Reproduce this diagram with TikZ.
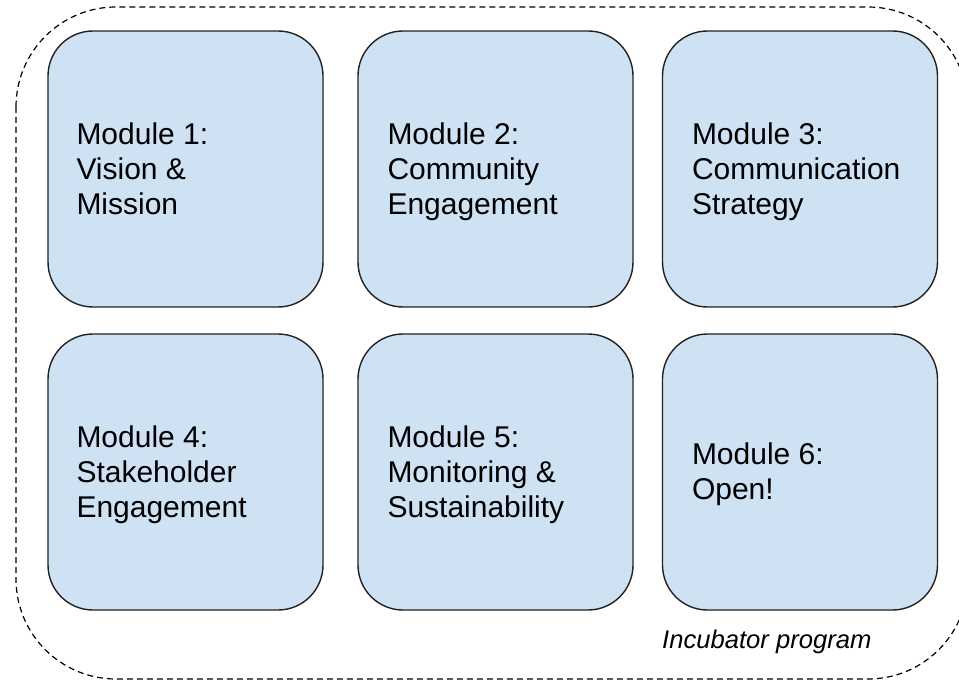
\documentclass[tikz,border=0pt]{standalone}
\usepackage{fontspec}
\setmainfont{Liberation Sans}
\definecolor{boxfill}{HTML}{CFE2F3}
\definecolor{boxline}{HTML}{222222}
\begin{document}
\begin{tikzpicture}[x=1pt,y=-1pt,
  modbox/.style={draw=boxline, line width=1.4pt, fill=boxfill, rounded corners=45pt,
    minimum width=275pt, minimum height=276pt, inner sep=0pt},
  modtext/.style={anchor=north west, align=left, inner sep=0pt, text=black,
    font=\fontsize{30}{35}\selectfont},
  outer/.style={draw=black, line width=1.2pt, dash pattern=on 6pt off 4pt, rounded corners=100pt},
  caption/.style={anchor=base west, inner sep=0pt, font=\fontsize{25.6}{30}\selectfont\itshape}]
\useasboundingbox (0,0) rectangle (959,682);
\draw[outer] (16,7) rectangle (968,679);
\node[modbox] (m1) at (185.5,169) {};
\node[modbox] (m2) at (495.5,169) {};
\node[modbox] (m3) at (800,169) {};
\node[modbox] (m4) at (185.5,472) {};
\node[modbox] (m5) at (495.5,472) {};
\node[modbox] (m6) at (800,472) {};
\node[modtext] (t1) at ([xshift=29pt,yshift=46pt]m1.west) {Module 1:\\Vision \&\\Mission};
\node[modtext] (t2) at ([xshift=30pt,yshift=46pt]m2.west) {Module 2:\\Community\\Engagement};
\node[modtext] (t3) at ([xshift=30pt,yshift=46pt]m3.west) {Module 3:\\Communication\\Strategy};
\node[modtext] (t4) at ([xshift=29pt,yshift=46pt]m4.west) {Module 4:\\Stakeholder\\Engagement};
\node[modtext] (t5) at ([xshift=30pt,yshift=46pt]m5.west) {Module 5:\\Monitoring \&\\Sustainability};
\node[modtext] (t6) at ([xshift=30pt,yshift=29pt]m6.west) {Module 6:\\Open!};
\node[caption] (cap) at (662,648) {Incubator program};
\end{tikzpicture}
\end{document}
